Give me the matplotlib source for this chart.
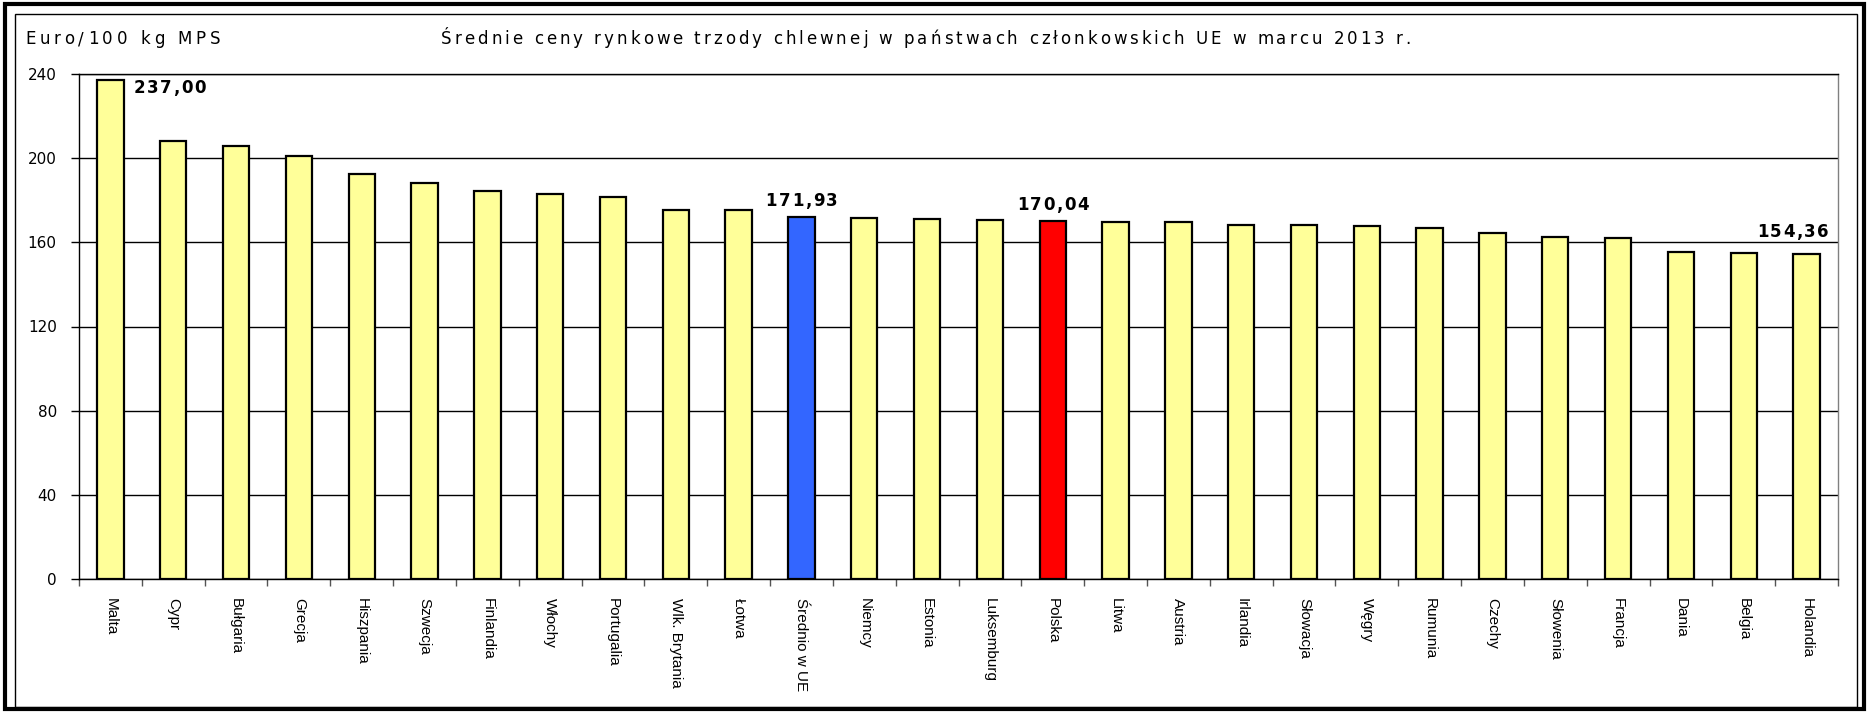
import matplotlib
matplotlib.use("Agg")
import matplotlib.pyplot as plt
from matplotlib.patches import Rectangle
from matplotlib.font_manager import FontProperties, findfont, get_font

# ---- data ----
kraje = ["Malta", "Cypr", "Bułgaria", "Grecja", "Hiszpania", "Szwecja", "Finlandia",
         "Włochy", "Portugalia", "Wlk. Brytania", "Łotwa", "Średnio w UE", "Niemcy",
         "Estonia", "Luksemburg", "Polska", "Litwa", "Austria", "Irlandia", "Słowacja",
         "Węgry", "Rumunia", "Czechy", "Słowenia", "Francja", "Dania", "Belgia", "Holandia"]
ceny = [237.00, 208.2, 206.0, 200.8, 192.3, 188.4, 184.2, 183.2, 181.4, 175.6, 175.6,
        171.93, 171.5, 171.1, 170.5, 170.04, 169.8, 169.5, 168.3, 168.2, 167.6, 167.0,
        164.4, 162.5, 162.1, 155.5, 155.0, 154.36]
opisane = ["Malta", "Średnio w UE", "Polska", "Holandia"]   # bars with value labels
y_ticks = [0, 40, 80, 120, 160, 200, 240]

tytul = "Średnie ceny rynkowe trzody chlewnej w państwach członkowskich UE w marcu 2013 r."
jednostka = "Euro/100 kg MPS"

W, H, DPI = 1869, 713, 100
FONT = "Liberation Sans"
WIDE = "DejaVu Sans"   # Excel stretched the horizontal texts, a wider face looks closer

kolory = []
for k in kraje:
    if k == "Średnio w UE":
        kolory.append("#3366FF")
    elif k == "Polska":
        kolory.append("#FF0000")
    else:
        kolory.append("#FFFF99")

fig = plt.figure(figsize=(W / DPI, H / DPI), dpi=DPI)
plt.rcParams["font.family"] = [FONT, "DejaVu Sans"]

# frames round the whole picture
fig.patches.append(Rectangle((5 / W, 4 / H), (W - 10) / W, (H - 8) / H, transform=fig.transFigure,
                             fill=False, lw=3, ec="black"))
fig.patches.append(Rectangle((15 / W, 6 / H), 1842 / W, 693 / H, transform=fig.transFigure,
                             fill=False, lw=1, ec="black"))

ax = fig.add_axes([79 / W, 1 - 579 / H, (1838 - 79) / W, (579 - 74) / H])
x = list(range(len(kraje)))
ax.bar(x, ceny, width=0.42, color=kolory, edgecolor="black", linewidth=1.6, zorder=3)

ax.set_xlim(-0.5, len(kraje) - 0.5)
ax.set_ylim(0, 240)
ax.set_yticks(y_ticks)
ax.set_yticklabels([str(t) for t in y_ticks], fontsize=11, family=WIDE)
ax.tick_params(axis="y", direction="out", length=6, width=1, pad=10)
ax.set_xticks(x)
ax.set_xticklabels(kraje, rotation=270, fontsize=11, va="top", ha="center")
ax.tick_params(axis="x", which="major", length=0, pad=14)
ax.set_xticks([i + 0.5 for i in range(-1, len(kraje))], minor=True)
ax.tick_params(axis="x", which="minor", direction="out", length=5, width=1, color="#555555")
ax.yaxis.grid(True, color="black", lw=1, zorder=0)
ax.set_axisbelow(True)
ax.spines["right"].set_color("#808080")
ax.spines["top"].set_color("black")
for s in ax.spines.values():
    s.set_linewidth(1)


# Excel draws these texts stretched, so characters are put one by one with extra room
def advances(s, size, weight, family):
    fp = FontProperties(family=family, size=size, weight=weight)
    font = get_font(findfont(fp))
    font.set_size(size, DPI)
    return [font.load_char(ord(c)).linearHoriAdvance / 65536 for c in s]


def spaced_text(s, x0, yc, size, width, weight="normal", ha="left", family=WIDE):
    adv = advances(s, size, weight, family)
    spacing = (width - sum(adv)) / (len(s) - 1)
    if ha == "center":
        x0 = x0 - width / 2
    elif ha == "right":
        x0 = x0 - width
    xx = x0
    for c, a in zip(s, adv):
        fig.text(xx / W, 1 - yc / H, c, fontsize=size, fontweight=weight,
                 family=family, ha="left", va="center")
        xx += a + spacing


spaced_text(jednostka, 25, 39, 12, 195)
spaced_text(tytul, 441, 39, 12, 970)

fig.canvas.draw()
for k in opisane:
    i = kraje.index(k)
    v = ceny[i]
    px, py = ax.transData.transform((i, v))
    ytop = H - py
    etykieta = f"{v:.2f}".replace(".", ",")
    if i == 0:
        x_right = ax.transData.transform((i + 0.42 / 2, v))[0]
        spaced_text(etykieta, x_right + 10, ytop + 8, 12, 72, weight="bold")
    elif i == len(kraje) - 1:
        x_right = ax.transData.transform((i + 0.42 / 2, v))[0]
        spaced_text(etykieta, x_right + 9, ytop - 22, 12, 72, weight="bold", ha="right")
    else:
        spaced_text(etykieta, px, ytop - 16, 12, 72, weight="bold", ha="center")

fig.savefig("out.png", dpi=DPI)
